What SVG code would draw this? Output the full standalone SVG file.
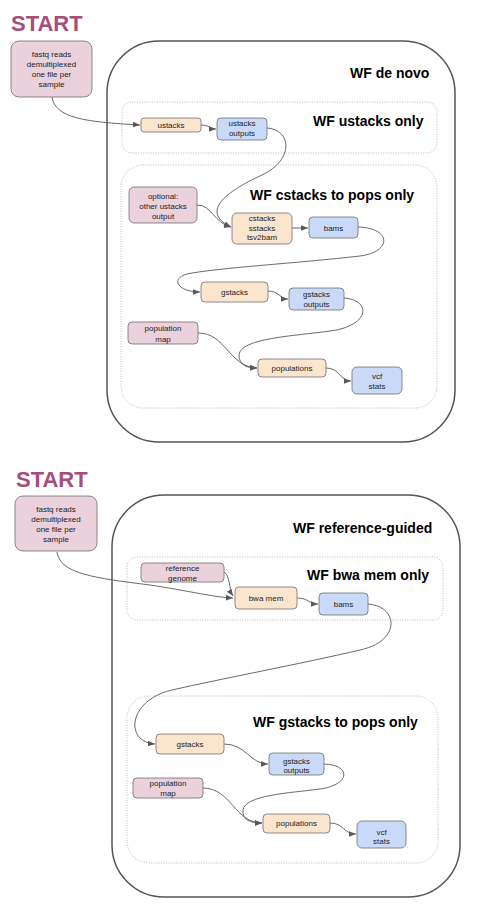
<svg xmlns="http://www.w3.org/2000/svg" width="485" height="906" viewBox="0 0 485 906">
<style>
.start{font-family:"Liberation Sans",Arial,sans-serif;font-weight:bold;font-size:22px;fill:#a64d79}
.title{font-family:"Liberation Sans",Arial,sans-serif;font-weight:bold;font-size:14px;fill:#000}
.t{font-family:"Liberation Sans",Arial,sans-serif;font-size:8px;fill:#222;text-anchor:middle}
.outer{fill:none;stroke:#555;stroke-width:1.5}
.group{fill:none;stroke:#bbb;stroke-width:1;stroke-dasharray:1 1.5}
.pink{fill:#ead1dc;stroke:#6f6f6f;stroke-width:0.8}
.peach{fill:#fce5cd;stroke:#6f6f6f;stroke-width:0.8}
.blue{fill:#c9daf8;stroke:#6f6f6f;stroke-width:0.8}
.edge{fill:none;stroke:#595959;stroke-width:0.9;marker-end:url(#arr)}
</style>
<defs>
<marker id="arr" viewBox="0 0 10 10" refX="10" refY="5" markerWidth="7" markerHeight="7" markerUnits="userSpaceOnUse" orient="auto">
<path d="M0,1 L10,5 L0,9 z" fill="#595959"/>
</marker>
</defs>
<rect width="485" height="906" fill="#fff"/>

<!-- ===== Top section ===== -->
<text class="start" x="11" y="31">START</text>
<g id="wf-de-novo">
<rect class="outer" x="107" y="41" width="348" height="401" rx="52"/>
<text class="title" x="350" y="78">WF de novo</text>
</g>
<g id="wf-ustacks-only">
<rect class="group" x="122" y="102" width="315" height="51" rx="10"/>
<text class="title" x="313" y="126">WF ustacks only</text>
</g>
<g id="wf-cstacks-to-pops">
<rect class="group" x="121" y="165" width="316" height="243" rx="22"/>
<text class="title" x="250" y="200">WF cstacks to pops only</text>
</g>

<g id="connectors-top">
<path class="edge" d="M52,97 C55,118 85,122 140,125"/>
<path class="edge" d="M201,125 C209,125 210,129 216,129"/>
<path class="edge" d="M267,128 C292,130 294,160 262,175 C225,192 200,212 231,227"/>
<path class="edge" d="M197,205 C212,205 214,223 231,227"/>
<path class="edge" d="M292,228 L308,228"/>
<path class="edge" d="M358,227 C392,228 392,252 360,256 C300,263 215,268 187,274 C170,279 178,292 200,292"/>
<path class="edge" d="M268,291 C279,291 280,299 288,299"/>
<path class="edge" d="M344,298 C372,300 370,326 330,331 C295,336 240,338 239,355 C239,366 248,368 257,368"/>
<path class="edge" d="M198,333 C226,333 228,366 257,368"/>
<path class="edge" d="M326,368 C340,368 340,381 351,381"/>
</g>

<g id="fastq-top">
<rect class="pink" x="11" y="41" width="81" height="56" rx="8"/>
<text class="t" x="51.5" y="57">fastq reads</text>
<text class="t" x="51.5" y="67">demultiplexed</text>
<text class="t" x="51.5" y="77">one file per</text>
<text class="t" x="51.5" y="87">sample</text>
</g>
<g id="ustacks">
<rect class="peach" x="141" y="118" width="60" height="14" rx="3"/>
<text class="t" x="171" y="128">ustacks</text>
</g>
<g id="ustacks-outputs">
<rect class="blue" x="217" y="118" width="50" height="22" rx="4"/>
<text class="t" x="242" y="126">ustacks</text>
<text class="t" x="242" y="136">outputs</text>
</g>
<g id="optional">
<rect class="pink" x="129" y="187" width="68" height="36" rx="5"/>
<text class="t" x="163" y="199">optional:</text>
<text class="t" x="163" y="209">other ustacks</text>
<text class="t" x="163" y="219">output</text>
</g>
<g id="cstacks">
<rect class="peach" x="232" y="213" width="60" height="31" rx="5"/>
<text class="t" x="262" y="221">cstacks</text>
<text class="t" x="262" y="230.5">sstacks</text>
<text class="t" x="262" y="240">tsv2bam</text>
</g>
<g id="bams-top">
<rect class="blue" x="309" y="217" width="49" height="21" rx="4"/>
<text class="t" x="333.5" y="231">bams</text>
</g>
<g id="gstacks-top">
<rect class="peach" x="201" y="282" width="67" height="20" rx="4"/>
<text class="t" x="234.5" y="295">gstacks</text>
</g>
<g id="gstacks-outputs-top">
<rect class="blue" x="289" y="288" width="55" height="22" rx="4"/>
<text class="t" x="316.5" y="297">gstacks</text>
<text class="t" x="316.5" y="307">outputs</text>
</g>
<g id="population-map-top">
<rect class="pink" x="128" y="322" width="70" height="22" rx="4"/>
<text class="t" x="163" y="331">population</text>
<text class="t" x="163" y="342">map</text>
</g>
<g id="populations-top">
<rect class="peach" x="258" y="359" width="68" height="18" rx="4"/>
<text class="t" x="292" y="371">populations</text>
</g>
<g id="vcf-stats-top">
<rect class="blue" x="352" y="367" width="50" height="27" rx="5"/>
<text class="t" x="377" y="379">vcf</text>
<text class="t" x="377" y="389">stats</text>
</g>

<!-- ===== Bottom section ===== -->
<text class="start" x="16" y="487">START</text>
<g id="wf-reference-guided">
<rect class="outer" x="112" y="495" width="348" height="402" rx="52"/>
<text class="title" x="293" y="533">WF reference-guided</text>
</g>
<g id="wf-bwa-mem-only">
<rect class="group" x="127" y="557" width="316" height="63" rx="10"/>
<text class="title" x="307" y="580">WF bwa mem only</text>
</g>
<g id="wf-gstacks-to-pops">
<rect class="group" x="127" y="696" width="311" height="167" rx="22"/>
<text class="title" x="253" y="727">WF gstacks to pops only</text>
</g>

<g id="connectors-bottom">
<path class="edge" d="M57,552 C60,574 95,578 150,585 C190,591 212,597 233,598"/>
<path class="edge" d="M224,572 C230,575 229,590 233,596"/>
<path class="edge" d="M297,598 C309,598 308,604 318,604"/>
<path class="edge" d="M368,604 C398,606 402,641 360,650 C300,664 220,679 172,690 C128,700 124,742 155,744"/>
<path class="edge" d="M224,744 C246,744 250,764 268,764"/>
<path class="edge" d="M324,764 C352,765 350,785 320,789 C290,793 245,795 243,810 C242,820 250,823 262,823"/>
<path class="edge" d="M203,788 C231,788 235,823 262,823"/>
<path class="edge" d="M330,823 C344,823 343,834 356,834"/>
</g>

<g id="fastq-bottom">
<rect class="pink" x="15" y="496" width="82" height="55" rx="8"/>
<text class="t" x="56" y="512">fastq reads</text>
<text class="t" x="56" y="522">demultiplexed</text>
<text class="t" x="56" y="532">one file per</text>
<text class="t" x="56" y="542">sample</text>
</g>
<g id="reference-genome">
<rect class="pink" x="141" y="563" width="83" height="19" rx="4"/>
<text class="t" x="182.5" y="571">reference</text>
<text class="t" x="182.5" y="581">genome</text>
</g>
<g id="bwa-mem">
<rect class="peach" x="235" y="587" width="62" height="22" rx="4"/>
<text class="t" x="266" y="601">bwa mem</text>
</g>
<g id="bams-bottom">
<rect class="blue" x="319" y="593" width="49" height="22" rx="4"/>
<text class="t" x="343.5" y="607">bams</text>
</g>
<g id="gstacks-bottom">
<rect class="peach" x="156" y="734" width="68" height="20" rx="4"/>
<text class="t" x="190" y="747">gstacks</text>
</g>
<g id="gstacks-outputs-bottom">
<rect class="blue" x="269" y="753" width="55" height="22" rx="4"/>
<text class="t" x="296.5" y="764">gstacks</text>
<text class="t" x="296.5" y="773">outputs</text>
</g>
<g id="population-map-bottom">
<rect class="pink" x="133" y="778" width="70" height="20" rx="4"/>
<text class="t" x="168" y="786">population</text>
<text class="t" x="168" y="796">map</text>
</g>
<g id="populations-bottom">
<rect class="peach" x="263" y="814" width="67" height="19" rx="4"/>
<text class="t" x="296.5" y="826">populations</text>
</g>
<g id="vcf-stats-bottom">
<rect class="blue" x="357" y="821" width="49" height="27" rx="5"/>
<text class="t" x="381.5" y="835">vcf</text>
<text class="t" x="381.5" y="844">stats</text>
</g>
</svg>
